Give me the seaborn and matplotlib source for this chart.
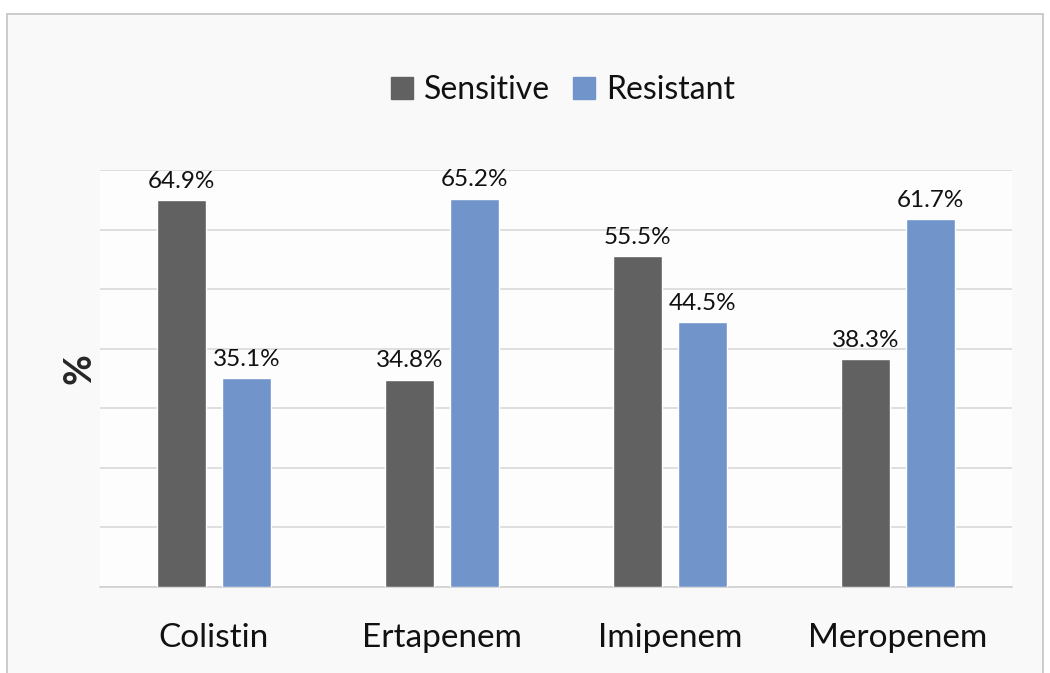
import pandas as pd
import matplotlib.pyplot as plt
import seaborn as sns
from matplotlib.patches import Rectangle

# Data
drugs = ['Colistin', 'Ertapenem', 'Imipenem', 'Meropenem']
sensitive = [64.9, 34.8, 55.5, 38.3]
resistant = [35.1, 65.2, 44.5, 61.7]
groups = ['Sensitive', 'Resistant']
colors = ['#616161', '#7194ca']

df = pd.DataFrame({
    'drug': drugs * 2,
    'status': [groups[0]] * 4 + [groups[1]] * 4,
    'pct': sensitive + resistant,
})

sns.set_style('white')
plt.rcParams['font.family'] = ['Lato', 'DejaVu Sans']

fig = plt.figure(figsize=(10.5, 6.73), dpi=100)
fig.patch.set_facecolor('white')

# outer chart frame
frame = Rectangle((7 / 1050, -0.01), 1036 / 1050, 1 - 14 / 673 + 0.01,
                  transform=fig.transFigure, facecolor='#f9f9f9',
                  edgecolor='#c4c4c4', linewidth=1.2, zorder=0)
fig.patches.append(frame)

ax = fig.add_axes([100 / 1050, 1 - 587 / 673, 912 / 1050, 417 / 673])
ax.set_zorder(2)
ax.set_facecolor('#fdfdfd')

sns.barplot(data=df, x='drug', y='pct', hue='status', palette=colors,
            width=0.57, gap=0.232, saturation=1, ax=ax, legend=False, zorder=3)

ax.set_ylim(0, 70)
ax.set_xlim(-0.5, 3.5)
ax.set_yticks(range(0, 71, 10))
ax.yaxis.grid(True, color='#d9d9d9', linewidth=1.2, zorder=0)
ax.set_axisbelow(True)
ax.set_yticklabels([])
ax.tick_params(axis='y', length=0)
ax.tick_params(axis='x', length=0, labelsize=24, pad=26, labelcolor='#111111')
for s in ['top', 'right', 'left']:
    ax.spines[s].set_visible(False)
ax.spines['bottom'].set_color('#d0d0d0')
ax.spines['bottom'].set_linewidth(1.2)

ax.set_xlabel('')
ax.set_ylabel('%', fontsize=27, fontweight='bold')
ax.yaxis.set_label_coords(-0.004, 0.525)

for cont in ax.containers:
    ax.bar_label(cont, labels=[f'{v:.1f}%' for v in cont.datavalues],
                 fontsize=17.5, padding=6, color='#111111')

# legend
handles = [Rectangle((0, 0), 1, 1, color=c) for c in colors]
fig.legend(handles, groups, loc='center', bbox_to_anchor=(563 / 1050, 1 - 90 / 673),
           ncol=2, frameon=False, fontsize=23, handlelength=0.7, handleheight=0.7,
           handletextpad=0.35, columnspacing=0.7, labelcolor='#111111')

fig.savefig('out.png', dpi=100, facecolor=fig.get_facecolor())
